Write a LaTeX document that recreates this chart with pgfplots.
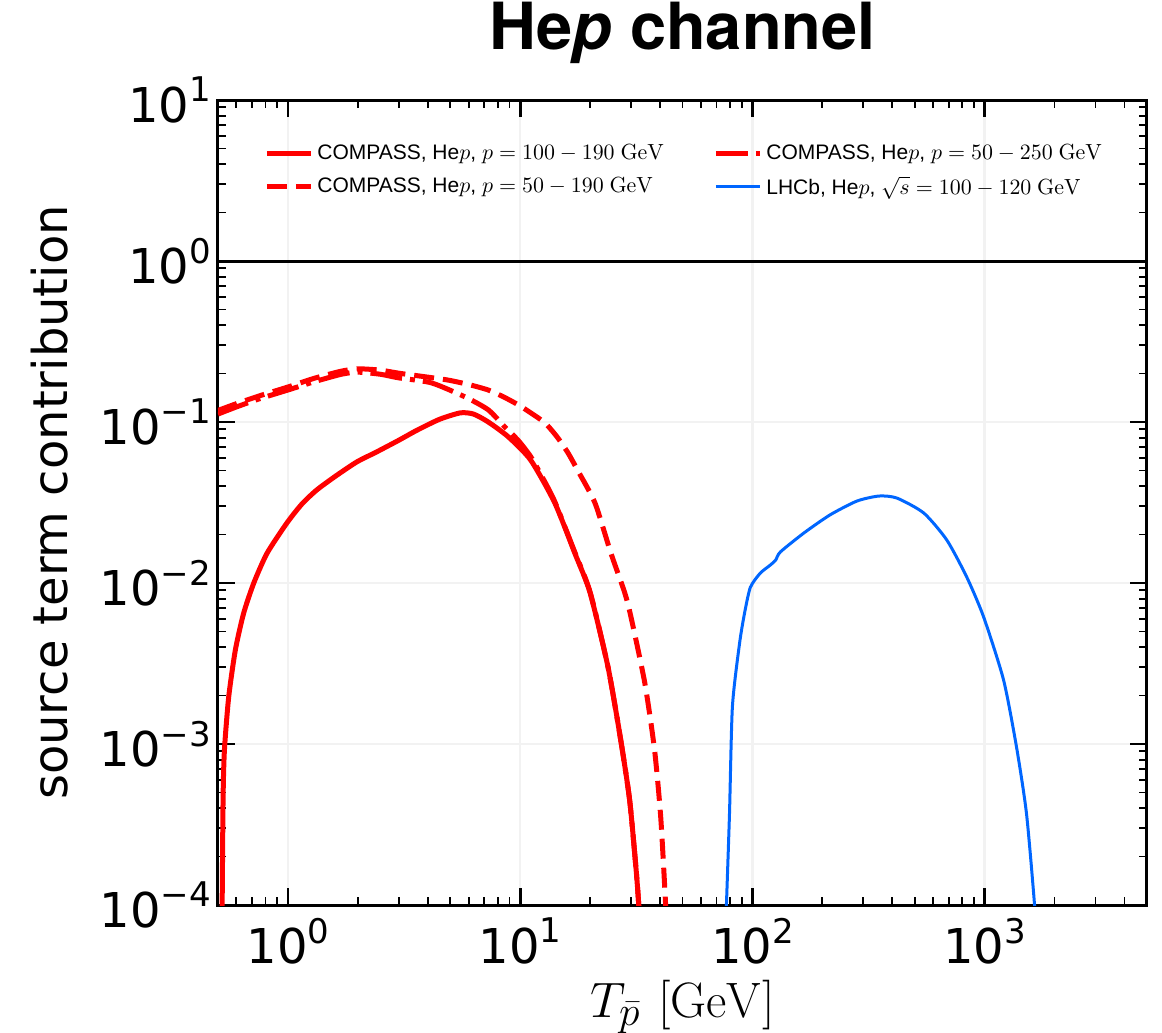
\documentclass[border=0pt]{standalone}
\usepackage[no-math]{fontspec}
\usepackage{pgfplots}
\pgfplotsset{compat=1.18}
\setmainfont{DejaVu Sans}
\newfontfamily\lib{Liberation Sans}
\newfontfamily\heros{TeX Gyre Heros}
\definecolor{myred}{RGB}{255,0,0}
\definecolor{myblue}{RGB}{0,102,255}
\newcommand\sups[1]{\raisebox{0.42em}{\fontsize{17}{17}\selectfont #1}}
\begin{document}
\begin{tikzpicture}
\useasboundingbox (-109pt,-64pt) rectangle (472pt,452.5pt);
\begin{axis}[
  scale only axis, width=464.5pt, height=402.5pt,
  xmode=log, ymode=log,
  xmin=0.5, xmax=5000, ymin=1e-4, ymax=10,
  axis line style={line width=1.5pt},
  tick align=inside, xtick pos=both, ytick pos=both,
  major tick length=8.5pt, minor tick length=4pt,
  every major tick/.style={black, line width=1.4pt},
  every minor tick/.style={black, line width=0.9pt},
  xtick={1,10,100,1000},
  xticklabels={10\sups{0},10\sups{1},10\sups{2},10\sups{3}},
  minor xtick={0.5,0.6,0.7,0.8,0.9,2,3,4,5,6,7,8,9,20,30,40,50,60,70,80,90,200,300,400,500,600,700,800,900,2000,3000,4000,5000},
  ytick={1e-4,1e-3,1e-2,1e-1,1,10},
  yticklabels={10\sups{−4},10\sups{−3},10\sups{−2},10\sups{−1},10\sups{0},10\sups{1}},
  minor ytick={2e-4,3e-4,4e-4,5e-4,6e-4,7e-4,8e-4,9e-4,2e-3,3e-3,4e-3,5e-3,6e-3,7e-3,8e-3,9e-3,2e-2,3e-2,4e-2,5e-2,6e-2,7e-2,8e-2,9e-2,0.2,0.3,0.4,0.5,0.6,0.7,0.8,0.9,2,3,4,5,6,7,8,9},
  tick label style={font=\fontsize{24}{28}\selectfont},
  xticklabel style={yshift=-3pt},
  grid=major, major grid style={gray!10, line width=1.2pt},
  every axis y label/.style={at={(axis description cs:0,0.5)}, xshift=-84pt, rotate=90, anchor=center},
  ylabel={\fontsize{24}{28}\selectfont source term contribution},
  every axis x label/.style={at={(axis description cs:0.5,0)}, yshift=-51pt, anchor=center},
  xlabel={\fontsize{28}{32}\selectfont $T_{\bar{p}}\ [\mathrm{GeV}]$},
  title style={at={(axis description cs:0.5,1)}, anchor=base, yshift=19.5pt},
  title={\heros\bfseries\fontsize{32.5}{34}\selectfont He\textit{p} channel},
  legend columns=2,
  legend cell align=left,
  legend style={draw=none, fill=none, at={(axis description cs:0.043,0.955)}, anchor=north west,
    font=\lib\fontsize{10.5}{12}\selectfont, row sep=3pt,
    /tikz/every even column/.append style={column sep=18pt}},
  legend image code/.code={\draw[#1] (0pt,0pt) -- (22pt,0pt);},
]
\addplot[myred, line width=2.5pt, smooth, tension=0.4] coordinates {
(0.518,5e-5) (0.521,1.0e-4) (0.526,4.7e-4) (0.533,9.2e-4) (0.556,1.96e-3) (0.594,3.84e-3)
(0.645,6.5e-3) (0.713,1.0e-2) (0.813,1.53e-2) (0.99,2.36e-2) (1.15,0.031) (1.33,3.78e-2)
(1.6,0.046) (1.98,5.65e-2) (2.4,0.065)
(3.0,7.7e-2) (3.6,8.9e-2) (4.5,0.104) (5.53,0.114) (6.3,0.112) (7.29,0.10) (8.88,0.081)
(11.1,0.058) (14.1,0.0314) (17.2,0.0153) (20,8.7e-3) (23.9,3.0e-3) (27.1,1.06e-3)
(29.6,4.5e-4) (31.5,1.72e-4) (32.4,1.0e-4) (33,5e-5)};
\addlegendentry{\makebox[178pt][l]{COMPASS, He$p$, $p=100-190\ \mathrm{GeV}$}}
\addplot[myred, line width=2.5pt, smooth, tension=0.4, dash pattern=on 16pt off 4pt on 2.5pt off 4pt] coordinates {
(0.5,0.112) (0.6,0.124) (0.75,0.139) (1.0,0.158) (1.3,0.178) (1.7,0.198) (2.0,0.204)
(2.5,0.198) (3.0,0.188) (4.15,0.175) (5.8,0.143) (7.29,0.119) (8.6,0.093) (9.8,0.077)
(11.1,0.061) (12.5,0.045) (14.1,0.0320) (17.2,0.0155) (20,8.8e-3) (23.9,3.0e-3)
(27.1,1.06e-3) (29.6,4.5e-4) (31.5,1.72e-4) (32.4,1.0e-4) (33,5e-5)};
\addlegendentry{COMPASS, He$p$, $p=50-250\ \mathrm{GeV}$}
\addplot[myred, line width=2.5pt, smooth, tension=0.4, dash pattern=on 10pt off 4.5pt] coordinates {
(0.5,0.118) (0.6,0.13) (0.75,0.145) (1.0,0.165) (1.3,0.187) (1.7,0.207) (2.0,0.214)
(2.5,0.21) (3.0,0.201) (4.0,0.19) (4.91,0.182) (6.0,0.171) (7.29,0.158) (8.5,0.143)
(9.8,0.128) (11,0.115) (12.8,0.0986) (14.5,0.08) (16.1,0.064) (17.7,0.050) (21,0.0314)
(24.6,0.0153) (28.2,8.7e-3) (30,6.15e-3) (34.4,2.4e-3) (37.9,9.2e-4) (40.3,3.5e-4)
(42.3,1e-4) (43,5e-5)};
\addlegendentry{\makebox[178pt][l]{COMPASS, He$p$, $p=50-190\ \mathrm{GeV}$}}
\addplot[myblue, line width=1.5pt, smooth, tension=0.4] coordinates {
(76,5e-5) (77.3,1.0e-4) (79.7,3.7e-4) (82,1.7e-3) (88,4.2e-3) (92.5,6.5e-3) (98,9.4e-3)
(108,1.15e-2) (120,1.3e-2) (126,1.39e-2) (132,1.56e-2) (167,2.05e-2) (216,2.65e-2)
(282,3.23e-2) (351,3.47e-2) (419,3.37e-2) (547,2.72e-2) (687,1.85e-2) (837,1.09e-2)
(990,6.15e-3) (1206,2.5e-3) (1371,9.6e-4) (1514,3.7e-4) (1640,1.0e-4) (1680,5e-5)};
\addlegendentry{LHCb, He$p$, $\sqrt{s}=100-120\ \mathrm{GeV}$}
\addplot[black, line width=1.5pt, forget plot] coordinates {(0.5,1) (5000,1)};
\end{axis}
\end{tikzpicture}
\end{document}
